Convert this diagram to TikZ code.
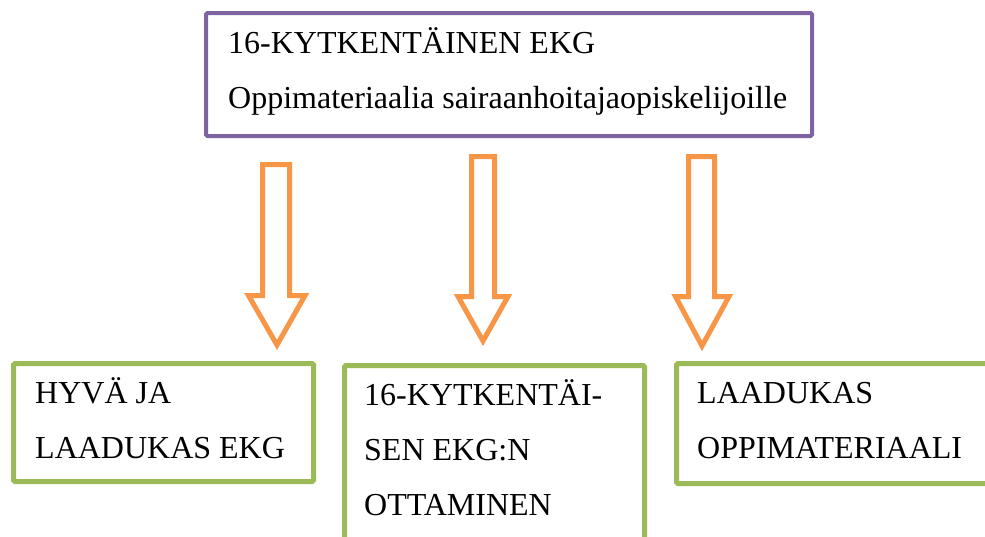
\documentclass[tikz,border=0pt]{standalone}
\usepackage{fontspec}
\setmainfont{Liberation Serif}
\definecolor{boxpurple}{HTML}{8064A2}
\definecolor{boxgreen}{HTML}{9BBB59}
\definecolor{arroworange}{HTML}{F79646}
\begin{document}
\begin{tikzpicture}[x=1pt,y=-1pt,
  txt/.style={anchor=base west,inner sep=0pt,font=\fontsize{32}{38}\selectfont},
  topbox/.style={draw=boxpurple,line width=4pt,rounded corners=1.5pt},
  greenbox/.style={draw=boxgreen,line width=5pt,rounded corners=1.5pt},
  blockarrow/.style={draw=arroworange,line width=5pt,line join=miter,fill=white}]
\useasboundingbox (0,0) rectangle (985,536);
\clip (0,0) rectangle (985,536);
% top box
\draw[topbox] (206,13) rectangle (812,136);
\node[txt] (t1) at (228,53) {16-KYTKENTÄINEN EKG};
\node[txt] (t2) at (228,108) {Oppimateriaalia sairaanhoitajaopiskelijoille};
% arrows
\draw[blockarrow] (262.5,164.5) -- (289.5,164.5) -- (289.5,295.5) -- (305,295.5) -- (277,345) -- (248.5,295.5) -- (262.5,295.5) -- cycle;
\draw[blockarrow] (471.5,156.5) -- (494.5,156.5) -- (494.5,296.5) -- (508,296.5) -- (483,341) -- (458,296.5) -- (471.5,296.5) -- cycle;
\draw[blockarrow] (688.5,156.5) -- (714.5,156.5) -- (714.5,296.5) -- (729,296.5) -- (702,346) -- (675.5,296.5) -- (688.5,296.5) -- cycle;
% bottom boxes
\draw[greenbox] (13.5,363.5) rectangle (313.5,481.5);
\node[txt] (a1) at (35,403) {HYVÄ JA};
\node[txt] (a2) at (35,458) {LAADUKAS EKG};
\draw[greenbox] (344.5,365.5) rectangle (644.5,570);
\node[txt] (b1) at (364,405) {16-KYTKENTÄI-};
\node[txt] (b2) at (364,460) {SEN EKG:N};
\node[txt] (b3) at (364,515) {OTTAMINEN};
\draw[greenbox] (676.5,363.5) rectangle (1010,483.5);
\node[txt] (c1) at (697,403) {LAADUKAS};
\node[txt] (c2) at (697,458) {OPPIMATERIAALI};
\end{tikzpicture}
\end{document}
